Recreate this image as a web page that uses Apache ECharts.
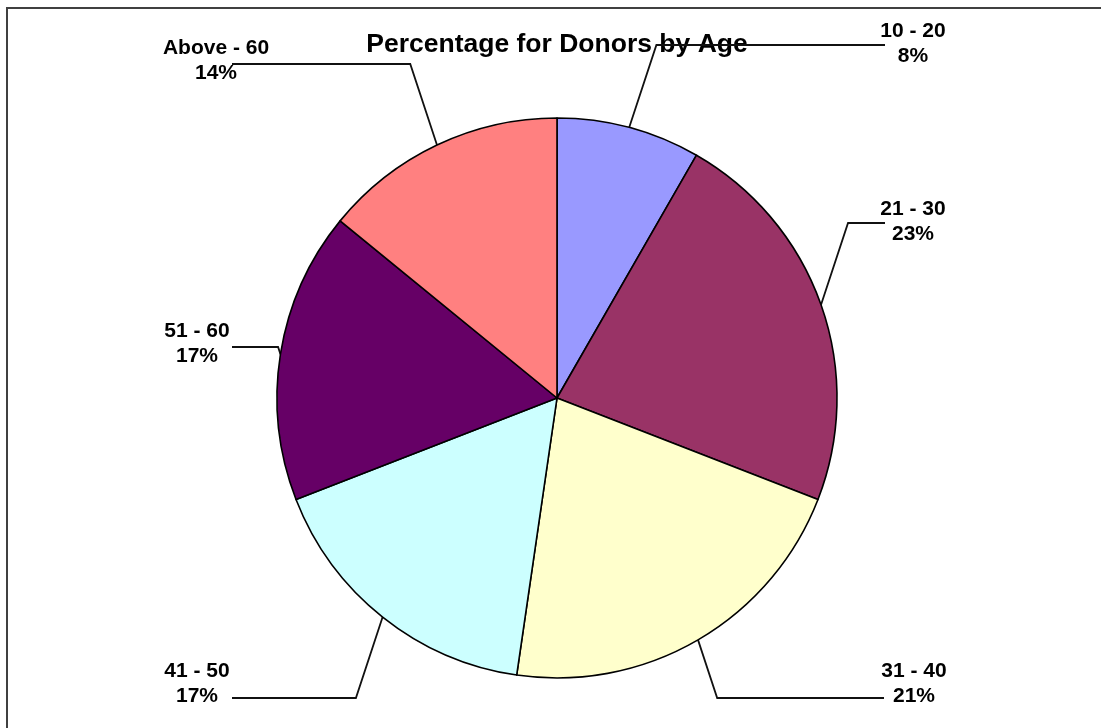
<!DOCTYPE html>
<html>
<head>
<meta charset="utf-8">
<script src="https://cdn.jsdelivr.net/npm/echarts@6/dist/echarts.min.js"></script>
<style>
  html, body { margin: 0; padding: 0; background: #fff; }
  #chart { width: 1101px; height: 728px; }
</style>
</head>
<body>
<div id="chart"></div>
<script>
const ageGroups = ['10 - 20', '21 - 30', '31 - 40', '41 - 50', '51 - 60', 'Above - 60'];
const donorShare = [8.3, 22.6, 21.4, 16.8, 16.8, 14.1];
const sliceColors = ['#9999FF', '#993366', '#FFFFCC', '#CCFFFF', '#660066', '#FF8080'];

// where each label sits: text centre x, text centre y, leader end x, leader y
const labelSpots = [
  [913, 44, 885, 45],
  [913, 222, 885, 223],
  [914, 684, 884, 698],
  [197, 684, 232, 698],
  [197, 344, 232, 347],
  [216, 61, 232, 64]
];

const chart = echarts.init(document.getElementById('chart'));

const option = {
  backgroundColor: '#fff',
  animation: false,
  graphic: [
    {
      type: 'rect',
      shape: { x: 7, y: 8, width: 1200, height: 800 },
      style: { fill: 'none', stroke: '#404040', lineWidth: 2 },
      z: 0
    },
    {
      type: 'text',
      x: 557,
      y: 45,
      style: {
        text: 'Percentage for Donors by Age',
        fontFamily: 'Liberation Sans, Arial, sans-serif',
        fontSize: 26.5,
        fontWeight: 'bold',
        fill: '#000',
        align: 'center',
        verticalAlign: 'middle'
      },
      z: 1
    }
  ],
  series: [
    {
      type: 'pie',
      center: [557, 398],
      radius: 280,
      startAngle: 90,
      clockwise: true,
      avoidLabelOverlap: false,
      silent: true,
      data: ageGroups.map((name, i) => ({
        name: name,
        value: donorShare[i],
        itemStyle: { color: sliceColors[i] }
      })),
      itemStyle: { borderColor: '#000', borderWidth: 1.6 },
      label: {
        show: true,
        position: 'outside',
        align: 'center',
        fontFamily: 'Liberation Sans, Arial, sans-serif',
        fontSize: 21,
        fontWeight: 'bold',
        lineHeight: 25,
        color: '#000',
        formatter: p => p.name + '\n' + Math.round(p.percent) + '%'
      },
      labelLine: {
        show: true,
        length: 40,
        length2: 40,
        lineStyle: { color: '#111', width: 1.8 }
      },
      labelLayout: function (params) {
        const spot = labelSpots[params.dataIndex];
        const p0 = params.labelLinePoints[0];
        const side = spot[2] > p0[0] ? 1 : -1;
        const elbowX = p0[0] + side * 0.33 * Math.abs(spot[3] - p0[1]);
        return {
          x: spot[0],
          y: spot[1],
          align: 'center',
          verticalAlign: 'middle',
          labelLinePoints: [
            [p0[0], p0[1]],
            [elbowX, spot[3]],
            [spot[2], spot[3]]
          ]
        };
      }
    }
  ]
};

chart.setOption(option);
window.addEventListener('resize', () => chart.resize());
</script>
</body>
</html>
